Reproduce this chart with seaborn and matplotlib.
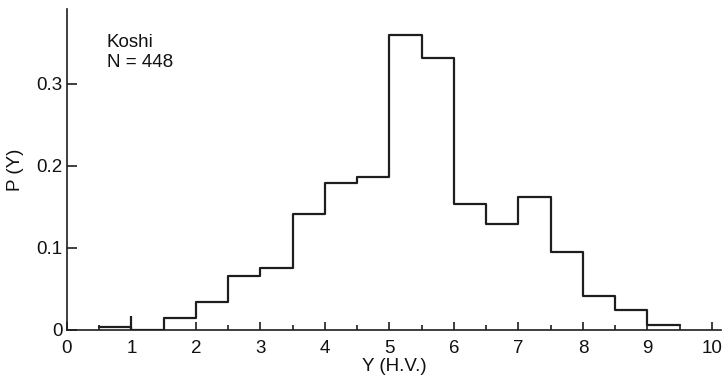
import numpy as np
import pandas as pd
import matplotlib
matplotlib.use("Agg")
import matplotlib.pyplot as plt
import seaborn as sns
from matplotlib.ticker import MultipleLocator

# ---- data ----
bin_edges = [0.5, 1.0, 1.5, 2.0, 2.5, 3.0, 3.5, 4.0, 4.5, 5.0, 5.5, 6.0, 6.5,
             7.0, 7.5, 8.0, 8.5, 9.0, 9.5]
prob = [0.004, 0.0, 0.014, 0.0335, 0.066, 0.0757, 0.1417, 0.179, 0.186,
        0.3588, 0.3315, 0.153, 0.129, 0.162, 0.0948, 0.041, 0.024, 0.0055]
spike_x = [1.0]
spike_h = [0.017]
x_ticks = [0, 1, 2, 3, 4, 5, 6, 7, 8, 9, 10]
y_ticks = [0, 0.1, 0.2, 0.3]
y_tick_labels = ["0", "0.1", "0.2", "0.3"]
label_text = "Koshi\nN = 448"

centers = [(a + b) / 2 for a, b in zip(bin_edges[:-1], bin_edges[1:])]
df = pd.DataFrame({"Y": centers, "P": prob})

sns.set_style("ticks")
plt.rcParams["font.family"] = ["Liberation Sans", "DejaVu Sans"]

fig = plt.figure(figsize=(7.25, 3.82), dpi=100)
ax = fig.add_axes([67 / 725, 1 - 330 / 382, (721 - 67) / 725, (330 - 9) / 382])

line_color = "#1e1e1e"
fs = 13.5
sns.histplot(data=df, x="Y", weights="P", bins=bin_edges, element="step",
             fill=False, stat="count", color=line_color, linewidth=1.6, ax=ax)
ax.vlines(spike_x, 0, spike_h, color=line_color, linewidth=1.6)

ax.set_xlim(0, 10.14)
ax.set_ylim(0, 0.3907)
ax.set_xticks(x_ticks)
ax.xaxis.set_minor_locator(MultipleLocator(0.5))
ax.set_yticks(y_ticks)
ax.set_yticklabels(y_tick_labels)

for s in ["top", "right"]:
    ax.spines[s].set_visible(False)
for s in ["left", "bottom"]:
    ax.spines[s].set_linewidth(1.2)
    ax.spines[s].set_color(line_color)

ax.tick_params(axis="x", which="major", direction="in", length=6, width=1.2,
               color=line_color, labelsize=fs, pad=7, labelcolor="#111111")
ax.tick_params(axis="x", which="minor", direction="in", length=3.5, width=1.2,
               color=line_color)
ax.tick_params(axis="y", which="major", direction="in", length=7, width=1.2,
               color=line_color, labelsize=fs, pad=3, labelcolor="#111111")

ax.set_xlabel("Y (H.V.)", fontsize=fs, labelpad=1, color="#111111")
ax.set_ylabel("P (Y)", fontsize=fs, labelpad=9, color="#111111")

ax.text(0.061, 0.922, label_text, transform=ax.transAxes, fontsize=fs,
        va="top", ha="left", linespacing=1.25, color="#111111")

fig.savefig("out.png", dpi=100)
